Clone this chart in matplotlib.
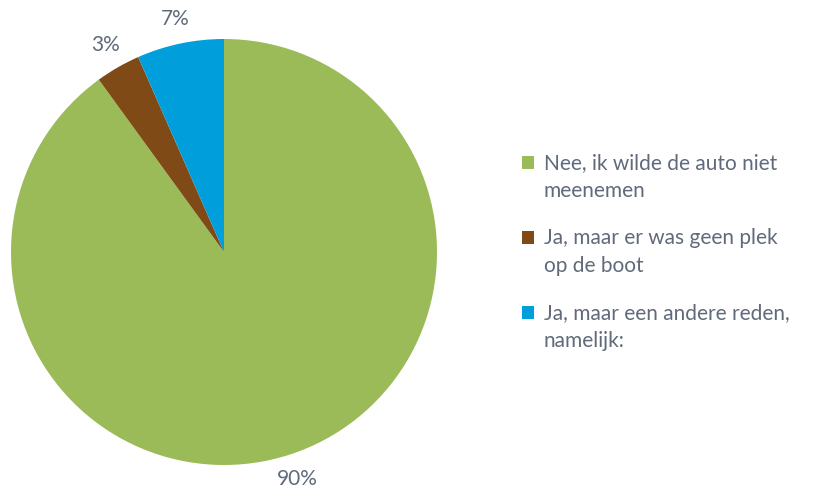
import matplotlib
matplotlib.use("Agg")
import matplotlib.pyplot as plt
from matplotlib.patches import Patch, Rectangle
from matplotlib.legend_handler import HandlerPatch

plt.rcParams["font.family"] = ["Lato", "DejaVu Sans"]

labels = ["Nee, ik wilde de auto niet\nmeenemen",
          "Ja, maar er was geen plek\nop de boot",
          "Ja, maar een andere reden,\nnamelijk:"]
values = [90.0, 3.4, 6.6]
colors = ["#9BBB59", "#7F4A16", "#009FDB"]
text_color = "#606A7A"

fig = plt.figure(figsize=(8.14, 4.93), dpi=100)
ax = fig.add_axes([11 / 814, 28 / 493, 426 / 814, 426 / 493])

wedges, texts, autotexts = ax.pie(
    values, colors=colors, startangle=90, counterclock=False,
    autopct=lambda p: f"{p:.0f}%", pctdistance=1.12,
    textprops=dict(color=text_color, fontsize=15),
    wedgeprops=dict(linewidth=0))
for t in autotexts:
    t.set_clip_on(False)
ax.set_xlim(-1, 1)
ax.set_ylim(-1, 1)
ax.set_aspect("equal")


# square marker aligned with the first line of a two-line label
def top_square(legend, orig_handle, xdescent, ydescent, width, height, fontsize):
    return Rectangle((-xdescent, -ydescent + 0.72 * fontsize), width, height)


handles = [Patch(facecolor=c, edgecolor="none") for c in colors]
leg = fig.legend(handles, labels, loc="upper left", bbox_to_anchor=(0.618, 0.727),
                 frameon=False, labelcolor=text_color,
                 handlelength=0.6, handleheight=0.6, handletextpad=0.45,
                 labelspacing=1.34, prop=dict(size=15),
                 handler_map={Patch: HandlerPatch(patch_func=top_square)})
for t in leg.get_texts():
    t.set_linespacing(1.45)

fig.savefig("out.png", dpi=100, facecolor="white")
